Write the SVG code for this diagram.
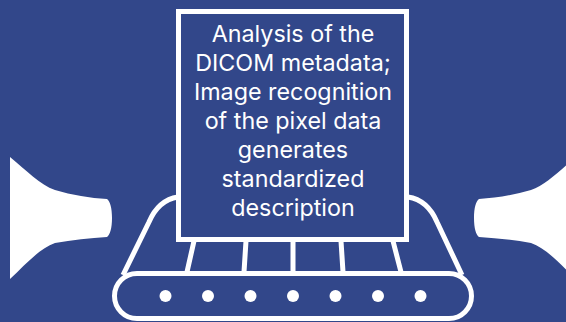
<svg xmlns="http://www.w3.org/2000/svg" width="566" height="322" viewBox="0 0 566 322">
<style>
.l{fill:none;stroke:#fff;stroke-width:5}
.t{fill:#fff;font-family:"Inter","Liberation Sans",sans-serif;font-size:23.300px;font-weight:400;text-anchor:middle}
.d{fill:#fff}
</style>
<rect width="566" height="322" fill="#32478a"/>
<g id="horn-left"><path class="d" d="M10 157C26 170 40 185 55 190C72 195 90 198 107 199C110 201 112 208 112 218C112 228 110 235 107 237C90 238 72 240 55 243C40 248 26 264 10 279Z"/></g>
<g id="horn-right"><path class="d" d="M576 157C560 170 546 185 531 190C514 195 496 198 479 199C476 201 474 208 474 218C474 228 476 235 479 237C496 238 514 240 531 243C546 248 560 264 576 279Z"/></g>
<g id="conveyor">
<path class="l" d="M123 275L149 222C155 208 165 199 178 197"/>
<path class="l" d="M408 197C421 199 431 208 437 222L462 275"/>
<path class="l" d="M194 241L187 272M246 241L244 272M293 241V272M341 241L343 272M393 241L401 272"/>
<rect class="l" x="114.500" y="273.500" width="357" height="45" rx="22.500"/>
<circle class="d" cx="165.500" cy="296" r="6"/><circle class="d" cx="208" cy="296" r="6"/><circle class="d" cx="250.500" cy="296" r="6"/><circle class="d" cx="293" cy="296" r="6"/><circle class="d" cx="335.500" cy="296" r="6"/><circle class="d" cx="378" cy="296" r="6"/><circle class="d" cx="420.500" cy="296" r="6"/>
</g>
<g id="box">
<rect x="178.500" y="11.500" width="228" height="228" fill="#32478a" stroke="#fff" stroke-width="5"/>
<text class="t" x="293" y="41.500">Analysis of the</text>
<text class="t" x="293" y="70.500">DICOM metadata;</text>
<text class="t" x="293" y="99.500">Image recognition</text>
<text class="t" x="293" y="128.500">of the pixel data</text>
<text class="t" x="293" y="157.500">generates</text>
<text class="t" x="293" y="186.500">standardized</text>
<text class="t" x="293" y="215.500">description</text>
</g>
</svg>
